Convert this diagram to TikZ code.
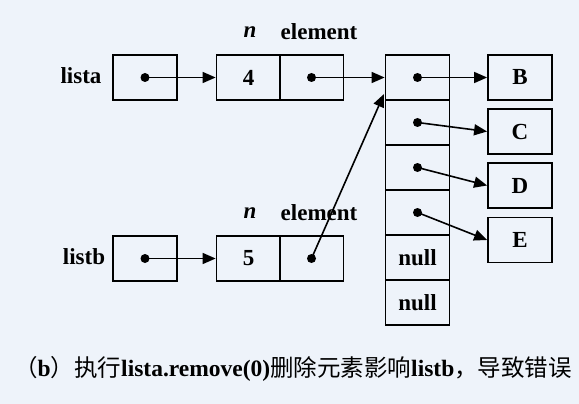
\documentclass[tikz,border=0pt]{standalone}
\usepackage{fontspec}
\setmainfont{Liberation Serif}
\newfontfamily\cjk{Noto Sans CJK SC}
\usetikzlibrary{arrows.meta}
\definecolor{bgblue}{RGB}{238,243,250}

\begin{document}
\begin{tikzpicture}[x = 1pt, y = -1pt,
		cell/.style = {draw, line width = 1.8pt, minimum width = 64pt, minimum height = 45pt,
			inner sep = 0pt, font = \fontsize{23}{23}\selectfont\bfseries},
		word/.style = {font = \fontsize{23}{23}\selectfont\bfseries},
		ptr/.style = {line width = 1.6pt, -{Triangle[length = 13pt, width = 11pt]}}]
		\fill [bgblue] (0, 0) rectangle (579, 404) ;
		% list a
		\node [word] (lista) at (81, 76) {lista} ;
		\node [cell] (ra) at (145, 77.5) {} ;
		\node [cell] (na) at (248.5, 77.5) {4} ;
		\node [cell] (ea) at (311.5, 77.5) {} ;
		\node [word] (nta) at (250, 32) {\itshape n} ;
		\node [word] (eta) at (319, 32) {element} ;
		% list b
		\node [word] (listb) at (84, 257) {listb} ;
		\node [cell] (rb) at (145, 258.5) {} ;
		\node [cell] (nb) at (248.5, 258.5) {5} ;
		\node [cell] (eb) at (311.5, 258.5) {} ;
		\node [word] (ntb) at (250, 213) {\itshape n} ;
		\node [word] (etb) at (319, 213) {element} ;
		% shared array
		\node [cell] (a0) at (417.5, 77.5) {} ;
		\node [cell] (a1) at (417.5, 122.5) {} ;
		\node [cell] (a2) at (417.5, 167.5) {} ;
		\node [cell] (a3) at (417.5, 212.5) {} ;
		\node [cell] (a4) at (417.5, 257.5) {null} ;
		\node [cell] (a5) at (417.5, 302.5) {null} ;
		\coordinate (hit) at (384, 94) ;
		% objects
		\node [cell] (B) at (520, 77.5) {B} ;
		\node [cell] (C) at (520, 131.5) {C} ;
		\node [cell] (D) at (520, 185.5) {D} ;
		\node [cell] (E) at (520, 240) {E} ;
		% pointers
		\fill (ra.center) circle (4.5) (rb.center) circle (4.5)
			(ea.center) circle (4.5) (eb.center) circle (4.5)
			(a0.center) circle (4.5) (a1.center) circle (4.5)
			(a2.center) circle (4.5) (a3.center) circle (4.5) ;
		\draw [ptr] (ra.center) -- (na.west) ;
		\draw [ptr] (rb.center) -- (nb.west) ;
		\draw [ptr] (ea.center) -- (a0.west) ;
		\draw [ptr] (eb.center) -- (hit) ;
		\draw [ptr] (a0.center) -- (B.west) ;
		\draw [ptr] (a1.center) -- (C.west) ;
		\draw [ptr] (a2.center) -- (D.west) ;
		\draw [ptr] (a3.center) -- (E.west) ;
		% caption
		\node [font = \fontsize{23.5}{23.5}\selectfont\bfseries] (cap) at (293, 369)
			{{\cjk\mdseries （}b{\cjk\mdseries ）执行}lista.remove(0){\cjk\mdseries 删除元素影响}listb{\cjk\mdseries ，导致错误}} ;
	\end{tikzpicture}
\end{document}
